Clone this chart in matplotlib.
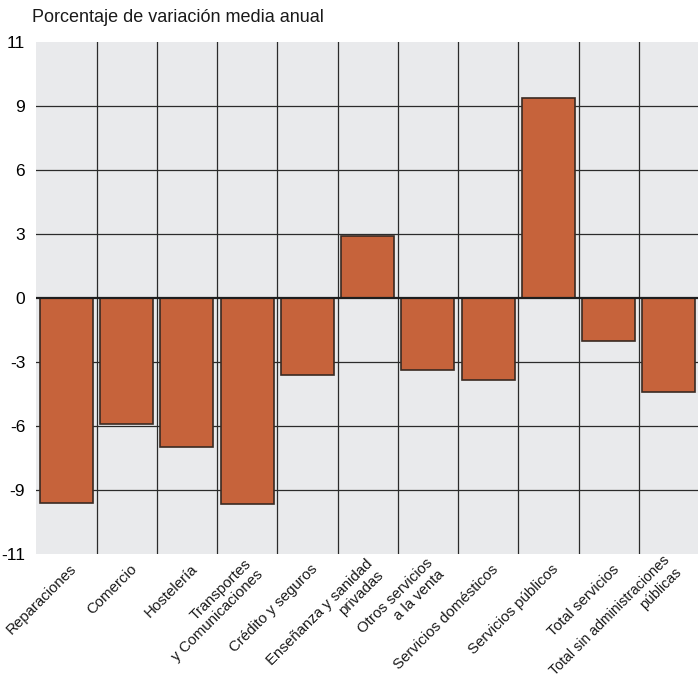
import matplotlib.pyplot as plt
from matplotlib.transforms import ScaledTranslation

plt.rcParams["font.family"] = ["Liberation Sans", "DejaVu Sans"]

categorias = [
    "Reparaciones",
    "Comercio",
    "Hostelería",
    "Transportes\ny Comunicaciones",
    "Crédito y seguros",
    "Enseñanza y sanidad\nprivadas",
    "Otros servicios\na la venta",
    "Servicios domésticos",
    "Servicios públicos",
    "Total servicios",
    "Total sin administraciones\npúblicas",
]
variacion = [-9.6, -5.9, -7.0, -9.65, -3.6, 2.9, -3.4, -3.85, 9.35, -2.0, -4.4]

y_ticks = [-12, -9, -6, -3, 0, 3, 6, 9, 12]
y_labels = ["-11", "-9", "-6", "-3", "0", "3", "6", "9", "11"]

bar_color = "#c6633b"
grid_color = "#2b2b2b"

fig = plt.figure(figsize=(6.98, 6.92), dpi=100)
ax = fig.add_axes([0.052, 0.1994, 0.9495, 0.7405])
ax.set_facecolor("#e9eaec")

x = list(range(len(categorias)))
ax.bar(x, variacion, width=0.88, color=bar_color, edgecolor="#3a2a22",
       linewidth=1.2, zorder=2)

ax.set_xlim(-0.5, len(categorias) - 0.5)
ax.set_ylim(-12, 12)

# grid: horizontal at ticks, vertical at column boundaries
for yv in y_ticks[1:-1]:
    if yv != 0:
        ax.axhline(yv, color=grid_color, linewidth=0.9, zorder=1)
ax.axhline(0, color="#1e1e1e", linewidth=1.6, zorder=3)
for k in range(1, len(categorias)):
    ax.axvline(k - 0.5, color=grid_color, linewidth=0.9, zorder=1)

for s in ax.spines.values():
    s.set_visible(False)

ax.set_yticks(y_ticks)
ax.set_yticklabels(y_labels, fontsize=12.5)
ax.tick_params(axis="y", length=0, pad=8)
ax.set_xticks(x)
ax.set_xticklabels([])
ax.tick_params(axis="x", length=0)

for xi, name in zip(x, categorias):
    last = xi == len(categorias) - 1
    dx, dy, fs = (4, -10, 10.2) if last else (8, -13, 10.8)
    offset = ScaledTranslation(dx / 100, dy / 100, fig.dpi_scale_trans)
    ax.text(xi, 0, name, transform=ax.get_xaxis_transform() + offset,
            rotation=45, rotation_mode="anchor", ha="right", va="center",
            multialignment="right", fontsize=fs, color="#1a1a1a")

fig.text(0.046, 0.974, "Porcentaje de variación media anual",
         fontsize=13, ha="left", va="center", color="#1a1a1a")

fig.savefig("out.png", dpi=100, facecolor="white")
